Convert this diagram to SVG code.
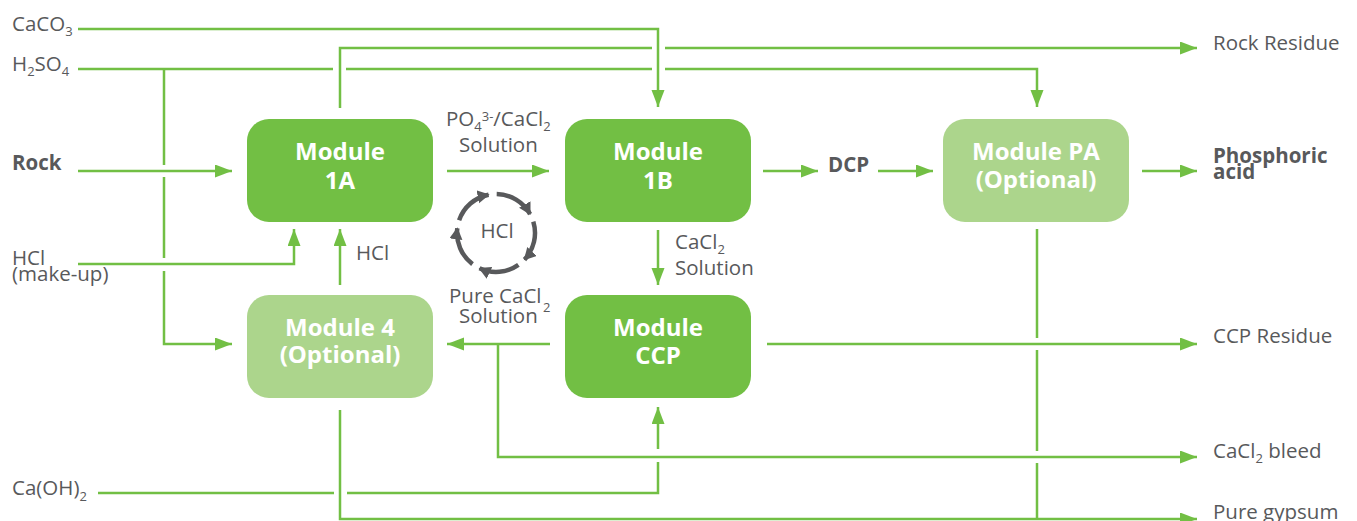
<svg xmlns="http://www.w3.org/2000/svg" width="1357" height="521" viewBox="0 0 1357 521">
<style>
.ln{fill:none;stroke:#72bf44;stroke-width:2.5}
.cy{fill:none;stroke:#58595b;stroke-width:4.5}
.dk{fill:#72bf44}
.lt{fill:#acd58c}
.nt{font-family:"Open Sans","Liberation Sans",sans-serif;font-weight:bold;font-size:24px;fill:#ffffff;text-anchor:middle}
.lb{font-family:"Open Sans","Liberation Sans",sans-serif;font-size:20.5px;fill:#58595b}
.bd{font-weight:bold}
.sm{font-size:13px}
</style>
<defs>
<marker id="ah" markerUnits="userSpaceOnUse" markerWidth="18" markerHeight="14" refX="17" refY="6.5" orient="auto"><path d="M0,0 L17,6.5 L0,13 z" fill="#72bf44"/></marker>
<marker id="gh" markerUnits="userSpaceOnUse" markerWidth="14" markerHeight="14" refX="11" refY="6.5" orient="auto"><path d="M0,0 L12,6.5 L0,13 z" fill="#58595b"/></marker>
</defs>
<g id="connectors">
<path class="ln" d="M78,29 H658 V107" marker-end="url(#ah)"/>
<path class="ln" d="M340,108 V48 H652 M665,48 H1197" marker-end="url(#ah)"/>
<path class="ln" d="M78,69 H333 M346,69 H652 M665,69 H1037 V107" marker-end="url(#ah)"/>
<path class="ln" d="M164,69 V165 M164,177 V258 M164,271 V344 H232" marker-end="url(#ah)"/>
<path class="ln" d="M78,171 H232" marker-end="url(#ah)"/>
<path class="ln" d="M78,264 H294 V229" marker-end="url(#ah)"/>
<path class="ln" d="M340,285 V229" marker-end="url(#ah)"/>
<path class="ln" d="M447,171 H549" marker-end="url(#ah)"/>
<path class="ln" d="M763,171 H818" marker-end="url(#ah)"/>
<path class="ln" d="M878,171 H933" marker-end="url(#ah)"/>
<path class="ln" d="M1142,171 H1197" marker-end="url(#ah)"/>
<path class="ln" d="M658,230 V285" marker-end="url(#ah)"/>
<path class="ln" d="M550,344 H447" marker-end="url(#ah)"/>
<path class="ln" d="M767,344 H1197" marker-end="url(#ah)"/>
<path class="ln" d="M498,344 V457 H1197" marker-end="url(#ah)"/>
<path class="ln" d="M98,493 H334 M347,493 H658 V462 M658,449 V407" marker-end="url(#ah)"/>
<path class="ln" d="M340,410 V519 H1197" marker-end="url(#ah)"/>
<path class="ln" d="M1037,229 V338 M1037,350 V451 M1037,463 V519"/>
</g>
<g id="hcl-cycle">
<path class="cy" d="M459.1,220.3 A39,39 0 0 1 488.6,194.7" marker-end="url(#gh)"/>
<path class="cy" d="M496.7,194.0 A39,39 0 0 1 530.1,214.1" marker-end="url(#gh)"/>
<path class="cy" d="M533.3,221.6 A39,39 0 0 1 524.5,259.6" marker-end="url(#gh)"/>
<path class="cy" d="M518.4,264.9 A39,39 0 0 1 479.5,268.3" marker-end="url(#gh)"/>
<path class="cy" d="M472.5,264.1 A39,39 0 0 1 457.3,228.2" marker-end="url(#gh)"/>
<text class="lb" x="497" y="238" text-anchor="middle">HCl</text>
</g>
<g id="module-1a">
<rect class="dk" x="247" y="119" width="186" height="103" rx="22"/>
<text class="nt" x="340" y="160">Module</text>
<text class="nt" x="340" y="189">1A</text>
</g>
<g id="module-1b">
<rect class="dk" x="565" y="119" width="186" height="103" rx="22"/>
<text class="nt" x="658" y="160">Module</text>
<text class="nt" x="658" y="189">1B</text>
</g>
<g id="module-pa">
<rect class="lt" x="943" y="119" width="186" height="103" rx="22"/>
<text class="nt" x="1036" y="160">Module PA</text>
<text class="nt" x="1036" y="188">(Optional)</text>
</g>
<g id="module-4">
<rect class="lt" x="247" y="295" width="186" height="103" rx="22"/>
<text class="nt" x="340" y="336">Module 4</text>
<text class="nt" x="340" y="363">(Optional)</text>
</g>
<g id="module-ccp">
<rect class="dk" x="565" y="295" width="186" height="103" rx="22"/>
<text class="nt" x="658" y="336">Module</text>
<text class="nt" x="658" y="364">CCP</text>
</g>
<g id="labels">
<text class="lb" x="12" y="31">CaCO<tspan class="sm" dy="5">3</tspan></text>
<text class="lb" x="12" y="71">H<tspan class="sm" dy="5">2</tspan><tspan dy="-5">SO</tspan><tspan class="sm" dy="5">4</tspan></text>
<text class="lb bd" x="12" y="170">Rock</text>
<text class="lb" x="12" y="265">HCl</text>
<text class="lb" x="12" y="281">(make-up)</text>
<text class="lb" x="12" y="495">Ca(OH)<tspan class="sm" dy="6">2</tspan></text>
<text class="lb" x="356" y="260">HCl</text>
<text class="lb" x="446" y="126">PO<tspan class="sm" dy="5">4</tspan><tspan class="sm" dy="-10">3-</tspan><tspan dy="5">/CaCl</tspan><tspan class="sm" dy="5">2</tspan></text>
<text class="lb" x="459" y="152">Solution</text>
<text class="lb" x="675" y="249">CaCl<tspan class="sm" dy="5">2</tspan></text>
<text class="lb" x="675" y="275">Solution</text>
<text class="lb" x="449" y="303">Pure CaCl<tspan class="sm" x="543" dy="9">2</tspan></text>
<text class="lb" x="459" y="323">Solution</text>
<text class="lb bd" x="828" y="172">DCP</text>
<text class="lb" x="1213" y="50">Rock Residue</text>
<text class="lb bd" x="1213" y="163">Phosphoric</text>
<text class="lb bd" x="1213" y="179">acid</text>
<text class="lb" x="1213" y="343">CCP Residue</text>
<text class="lb" x="1213" y="458">CaCl<tspan class="sm" dy="5">2</tspan><tspan dy="-5"> bleed</tspan></text>
<text class="lb" x="1213" y="519">Pure gypsum</text>
</g>
</svg>
